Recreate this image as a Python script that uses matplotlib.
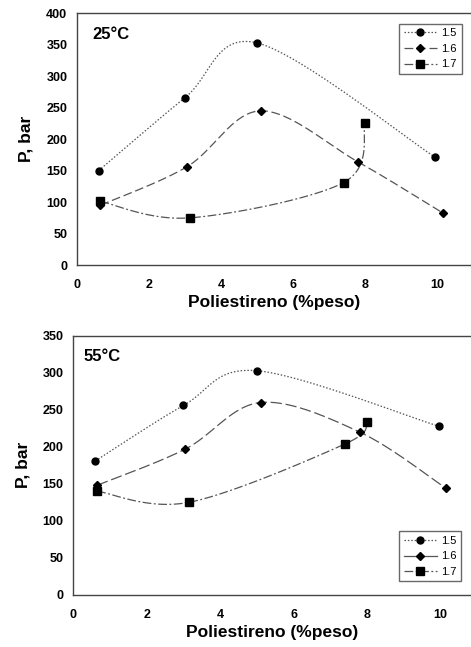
import numpy as np
import matplotlib
matplotlib.use("Agg")
import matplotlib.pyplot as plt
from matplotlib.lines import Line2D

plt.rcParams['font.family'] = ['Liberation Sans', 'DejaVu Sans']

series_labels = ["1.5", "1.6", "1.7"]

# 25 °C
x25_15 = [0.6, 3.0, 5.0, 9.95]
y25_15 = [150, 266, 353, 171]
x25_16 = [0.65, 3.05, 5.1, 7.8, 10.15]
y25_16 = [95, 156, 245, 164, 83]
x25_17 = [0.65, 3.15, 7.4, 8.0]
y25_17 = [101, 75, 131, 225]

# 55 °C
x55_15 = [0.6, 3.0, 5.0, 9.95]
y55_15 = [181, 256, 303, 228]
x55_16 = [0.65, 3.05, 5.1, 7.8, 10.15]
y55_16 = [148, 197, 260, 220, 144]
x55_17 = [0.65, 3.15, 7.4, 8.0]
y55_17 = [140, 125, 204, 234]

markers = ['o', 'D', 's']
msizes = [5, 4.5, 6]
styles = [(0, (1.2, 1.5)), (0, (7, 3)), (0, (7, 2, 1.5, 2))]
styles55 = [(0, (1.2, 1.5)), (0, (9, 3)), (0, (7, 2, 1.5, 2))]
legend_styles55 = [(0, (1.2, 1.5)), '-', (0, (7, 2, 1.5, 2))]
line_color = '#555555'


def smooth(ax, xs, ys, n=40):
    # Excel-like Catmull-Rom smoothing in display space
    pts = ax.transData.transform(np.column_stack([xs, ys]))
    P = np.vstack([pts[0], pts, pts[-1]])
    out = []
    for i in range(1, len(P) - 2):
        p0, p1, p2, p3 = P[i - 1], P[i], P[i + 1], P[i + 2]
        c1 = p1 + (p2 - p0) / 6.0
        c2 = p2 - (p3 - p1) / 6.0
        t = np.linspace(0, 1, n)[:, None]
        seg = ((1 - t) ** 3) * p1 + 3 * ((1 - t) ** 2) * t * c1 + 3 * (1 - t) * t ** 2 * c2 + t ** 3 * p2
        out.append(seg if i == 1 else seg[1:])
    out = np.vstack(out)
    d = ax.transData.inverted().transform(out)
    return d[:, 0], d[:, 1]


fig = plt.figure(figsize=(4.71, 6.47), dpi=100)
ax1 = fig.add_axes([0.1635, 0.5904, 1.0 - 0.1635, 0.9794 - 0.5904])
ax2 = fig.add_axes([0.1556, 0.0808, 1.0 - 0.1556, 0.4807 - 0.0808])

configs = [
    (ax1, [(x25_15, y25_15), (x25_16, y25_16), (x25_17, y25_17)], (0, 400), 50, 10.94, "25°C", styles, styles, 'upper right', (0.04, 0.945)),
    (ax2, [(x55_15, y55_15), (x55_16, y55_16), (x55_17, y55_17)], (0, 350), 50, 10.83, "55°C", styles55, legend_styles55, 'lower right', (0.027, 0.95)),
]

for ax, data, ylim, ystep, xmax, title, sty, lsty, loc, tpos in configs:
    ax.set_xlim(0, xmax)
    ax.set_ylim(*ylim)
    ax.set_xticks(np.arange(0, 11, 2))
    ax.set_yticks(np.arange(ylim[0], ylim[1] + 1, ystep))
    for lbl in ax.get_xticklabels() + ax.get_yticklabels():
        lbl.set_fontweight('bold')
    ax.tick_params(length=0, labelsize=9)
    ax.tick_params(axis='x', pad=10)
    ax.tick_params(axis='y', pad=7)
    ax.spines['right'].set_visible(False)
    for s in ['left', 'bottom', 'top']:
        ax.spines[s].set_color('#444444')
        ax.spines[s].set_linewidth(1.0)
    handles = []
    for (xs, ys), m, ms, ls, lls, lab in zip(data, markers, msizes, sty, lsty, series_labels):
        sx, sy = smooth(ax, xs, ys)
        ax.plot(sx, sy, color=line_color, lw=0.9, linestyle=ls, zorder=2)
        ax.plot(xs, ys, linestyle='none', marker=m, ms=ms, color='black', zorder=3)
        handles.append(Line2D([], [], color=line_color, lw=0.9, linestyle=lls,
                              marker=m, ms=ms, mfc='black', mec='black', label=lab))
    ax.set_xlabel("Poliestireno (%peso)", fontsize=12.5, fontweight='bold', labelpad=3)
    ax.set_ylabel("P, bar", fontsize=12.5, fontweight='bold', labelpad=9)
    ax.text(tpos[0], tpos[1], title, transform=ax.transAxes, fontsize=12, fontweight='bold', va='top', ha='left')
    leg = ax.legend(handles=handles, loc=loc, fontsize=8, frameon=True, fancybox=False,
                    edgecolor='#444444', handlelength=3.0, borderpad=0.4, labelspacing=0.5,
                    handletextpad=0.4, bbox_to_anchor=(0.99, 0.98) if loc == 'upper right' else (0.99, 0.03))
    leg.get_frame().set_linewidth(1.0)

fig.savefig("out.png", dpi=100)
